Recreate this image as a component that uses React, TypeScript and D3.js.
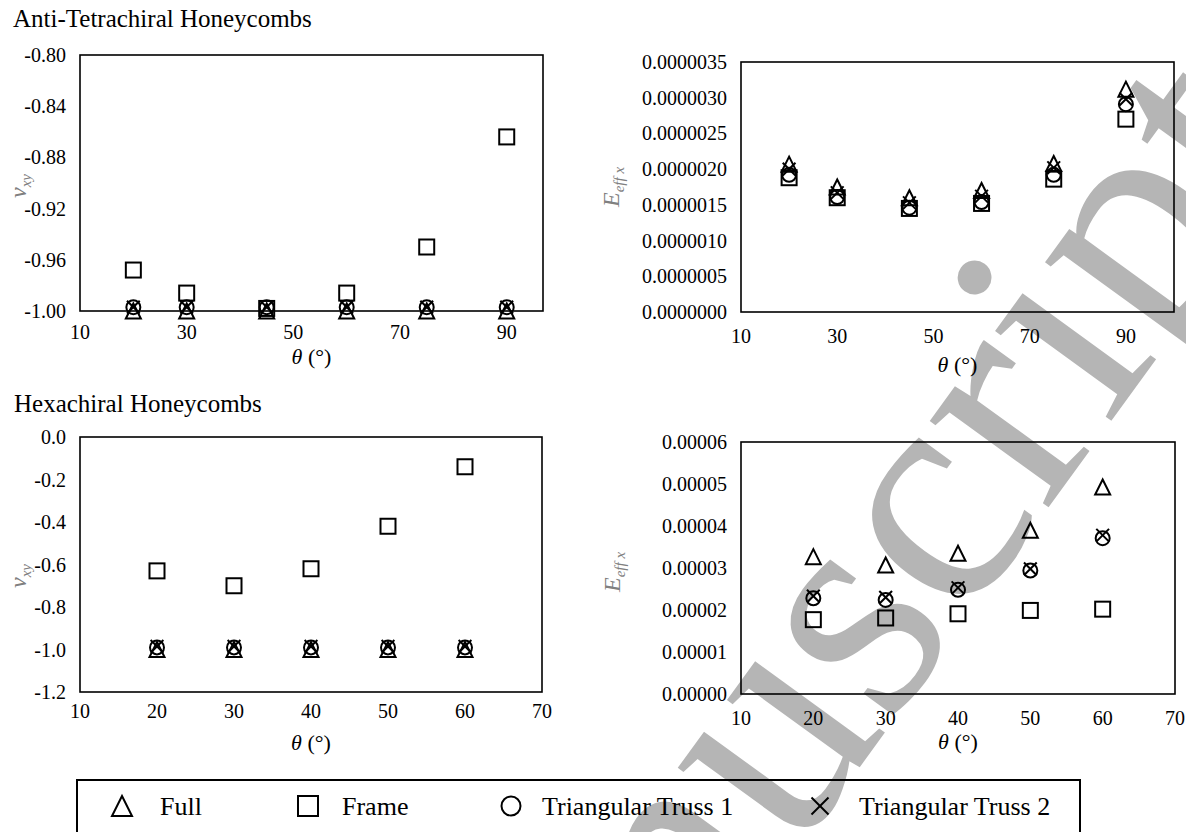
import React from "react";
import * as d3 from "d3";

// ---------- DATA ----------
const seriesNames = ["Full", "Frame", "Triangular Truss 1", "Triangular Truss 2"];
const seriesShapes = ["triangle", "square", "circle", "cross"];

// Anti-Tetrachiral
const antiAngles = [20, 30, 45, 60, 75, 90];
const antiNuFull = [-1.0, -1.0, -1.0, -1.0, -1.0, -1.0];
const antiNuFrame = [-0.968, -0.986, -0.998, -0.986, -0.95, -0.864];
const antiNuTT1 = [-0.997, -0.997, -0.997, -0.997, -0.997, -0.997];
const antiNuTT2 = [-0.997, -0.997, -0.997, -0.997, -0.997, -0.997];

const antiEFull = [2.07e-6, 1.75e-6, 1.6e-6, 1.7e-6, 2.08e-6, 3.12e-6];
const antiEFrame = [1.88e-6, 1.6e-6, 1.45e-6, 1.52e-6, 1.86e-6, 2.7e-6];
const antiETT1 = [1.92e-6, 1.61e-6, 1.46e-6, 1.54e-6, 1.92e-6, 2.91e-6];
const antiETT2 = [2.0e-6, 1.67e-6, 1.53e-6, 1.62e-6, 2.02e-6, 2.98e-6];

// Hexachiral
const hexAngles = [20, 30, 40, 50, 60];
const hexNuFull = [-1.0, -1.0, -1.0, -1.0, -1.0];
const hexNuFrame = [-0.63, -0.7, -0.62, -0.42, -0.14];
const hexNuTT1 = [-0.99, -0.99, -0.99, -0.99, -0.99];
const hexNuTT2 = [-0.985, -0.985, -0.985, -0.985, -0.985];

const hexEFull = [3.27e-5, 3.07e-5, 3.35e-5, 3.9e-5, 4.93e-5];
const hexEFrame = [1.77e-5, 1.81e-5, 1.91e-5, 1.99e-5, 2.02e-5];
const hexETT1 = [2.28e-5, 2.24e-5, 2.48e-5, 2.94e-5, 3.71e-5];
const hexETT2 = [2.33e-5, 2.3e-5, 2.53e-5, 2.98e-5, 3.78e-5];

// Axis ticks
const antiXTicks = [10, 30, 50, 70, 90];
const hexXTicks = [10, 20, 30, 40, 50, 60, 70];
const antiNuTicks = [-1.0, -0.96, -0.92, -0.88, -0.84, -0.8];
const antiETicks = [0, 0.5e-6, 1e-6, 1.5e-6, 2e-6, 2.5e-6, 3e-6, 3.5e-6];
const hexNuTicks = [-1.2, -1.0, -0.8, -0.6, -0.4, -0.2, 0.0];
const hexETicks = [0, 1e-5, 2e-5, 3e-5, 4e-5, 5e-5, 6e-5];

const watermarkText = "Accepted Manuscript";

const FONT = "'Liberation Serif', 'Times New Roman', serif";

function Marker({ shape, cx, cy, s }: { shape: string; cx: number; cy: number; s: number }) {
  const h = s / 2;
  const common = { fill: "none", stroke: "#000", strokeWidth: 2 };
  if (shape === "triangle") {
    const p = d3.path();
    p.moveTo(cx, cy - h);
    p.lineTo(cx + h, cy + h);
    p.lineTo(cx - h, cy + h);
    p.closePath();
    return <path d={p.toString()} {...common} strokeLinejoin="miter" />;
  }
  if (shape === "square") {
    return <rect x={cx - h} y={cy - h} width={s} height={s} {...common} />;
  }
  if (shape === "circle") {
    return <circle cx={cx} cy={cy} r={h - 0.5} {...common} />;
  }
  const k = h * 0.85;
  return (
    <g {...common}>
      <line x1={cx - k} y1={cy - k} x2={cx + k} y2={cy + k} />
      <line x1={cx - k} y1={cy + k} x2={cx + k} y2={cy - k} />
    </g>
  );
}

type PanelProps = {
  box: { l: number; t: number; r: number; b: number };
  xDomain: [number, number];
  yDomain: [number, number];
  xTicks: number[];
  yTicks: number[];
  yFmt: (v: number) => string;
  xs: number[];
  series: number[][];
  xLabelY: number;
  xTitleY: number;
  yLabel: React.ReactNode;
  yLabelPos: [number, number];
};

function Panel(p: PanelProps) {
  const x = d3.scaleLinear().domain(p.xDomain).range([p.box.l, p.box.r]);
  const y = d3.scaleLinear().domain(p.yDomain).range([p.box.b, p.box.t]);
  return (
    <g>
      {p.yTicks.map((v, i) => (
        <text key={"y" + i} x={p.box.l - 14} y={y(v)} dy="0.35em" textAnchor="end" fontSize={20} fontFamily={FONT}>
          {p.yFmt(v)}
        </text>
      ))}
      {p.xTicks.map((v, i) => (
        <text key={"x" + i} x={x(v)} y={p.xLabelY} textAnchor="middle" fontSize={20} fontFamily={FONT}>
          {v}
        </text>
      ))}
      <text x={(p.box.l + p.box.r) / 2} y={p.xTitleY} textAnchor="middle" fontSize={22} fontFamily={FONT}>
        <tspan fontStyle="italic">θ</tspan> (°)
      </text>
      <g transform={`translate(${p.yLabelPos[0]},${p.yLabelPos[1]}) rotate(-90)`}>{p.yLabel}</g>
      {p.series.map((vals, si) =>
        vals.map((v, i) => (
          <Marker key={si + "-" + i} shape={seriesShapes[si]} cx={x(p.xs[i])} cy={y(v)} s={15} />
        ))
      )}
      <rect
        x={p.box.l}
        y={p.box.t}
        width={p.box.r - p.box.l}
        height={p.box.b - p.box.t}
        fill="none"
        stroke="#000"
        strokeWidth={1.6}
      />
    </g>
  );
}

const nuLabel = (
  <text textAnchor="middle" fontSize={24} fontFamily={FONT} fill="#808080">
    <tspan fontStyle="italic">ν</tspan>
    <tspan fontStyle="italic" fontSize={15} dy={5}>
      xy
    </tspan>
  </text>
);
const eLabel = (
  <text textAnchor="middle" fontSize={24} fontFamily={FONT} fill="#808080">
    <tspan fontStyle="italic">E</tspan>
    <tspan fontStyle="italic" fontSize={15} dy={5}>
      eff x
    </tspan>
  </text>
);

export default function App() {
  const legendY = 806;
  const legendItems = [
    { mx: 122, tx: 160 },
    { mx: 308, tx: 342 },
    { mx: 511, tx: 542 },
    { mx: 820, tx: 859 },
  ];
  const wmX = 1306;
  const wmY = 153;
  return (
    <svg
      width={1186}
      height={832}
      style={{ position: "absolute", left: 0, top: 0, background: "#fff" }}
      fontFamily={FONT}
    >
      <rect x={0} y={0} width={1186} height={832} fill="#fff" />
      {/* watermark */}
      <text
        x={wmX}
        y={wmY}
        textAnchor="end"
        transform={`rotate(-54, ${wmX}, ${wmY})`}
        fontSize={320}
        fontFamily={FONT}
        fill="#b5b5b5"
      >
        {watermarkText}
      </text>

      <text x={13} y={27} fontSize={25} fontFamily={FONT}>
        Anti-Tetrachiral Honeycombs
      </text>
      <text x={14} y={412} fontSize={25} fontFamily={FONT}>
        Hexachiral Honeycombs
      </text>

      <Panel
        box={{ l: 80, t: 55, r: 543, b: 311 }}
        xDomain={[10, 96.8]}
        yDomain={[-1.0, -0.8]}
        xTicks={antiXTicks}
        yTicks={antiNuTicks}
        yFmt={(v) => v.toFixed(2)}
        xs={antiAngles}
        series={[antiNuFull, antiNuFrame, antiNuTT1, antiNuTT2]}
        xLabelY={339}
        xTitleY={364}
        yLabel={nuLabel}
        yLabelPos={[26, 186]}
      />
      <Panel
        box={{ l: 741, t: 62, r: 1174, b: 312 }}
        xDomain={[10, 100]}
        yDomain={[0, 3.5e-6]}
        xTicks={antiXTicks}
        yTicks={antiETicks}
        yFmt={(v) => v.toFixed(7)}
        xs={antiAngles}
        series={[antiEFull, antiEFrame, antiETT1, antiETT2]}
        xLabelY={343}
        xTitleY={372}
        yLabel={eLabel}
        yLabelPos={[619, 187]}
      />
      <Panel
        box={{ l: 80, t: 437, r: 542, b: 692 }}
        xDomain={[10, 70]}
        yDomain={[-1.2, 0]}
        xTicks={hexXTicks}
        yTicks={hexNuTicks}
        yFmt={(v) => (Math.abs(v) < 1e-9 ? "0.0" : v.toFixed(1))}
        xs={hexAngles}
        series={[hexNuFull, hexNuFrame, hexNuTT1, hexNuTT2]}
        xLabelY={718}
        xTitleY={750}
        yLabel={nuLabel}
        yLabelPos={[26, 576]}
      />
      <Panel
        box={{ l: 741, t: 442, r: 1175, b: 694 }}
        xDomain={[10, 70]}
        yDomain={[0, 6e-5]}
        xTicks={hexXTicks}
        yTicks={hexETicks}
        yFmt={(v) => v.toFixed(5)}
        xs={hexAngles}
        series={[hexEFull, hexEFrame, hexETT1, hexETT2]}
        xLabelY={725}
        xTitleY={749}
        yLabel={eLabel}
        yLabelPos={[620, 572]}
      />

      {/* legend */}
      <rect x={77} y={780} width={1003} height={70} fill="none" stroke="#000" strokeWidth={2} />
      {seriesNames.map((name, i) => (
        <g key={name}>
          <Marker shape={seriesShapes[i]} cx={legendItems[i].mx} cy={legendY} s={20} />
          <text x={legendItems[i].tx} y={legendY + 9} fontSize={26} fontFamily={FONT}>
            {name}
          </text>
        </g>
      ))}
    </svg>
  );
}
